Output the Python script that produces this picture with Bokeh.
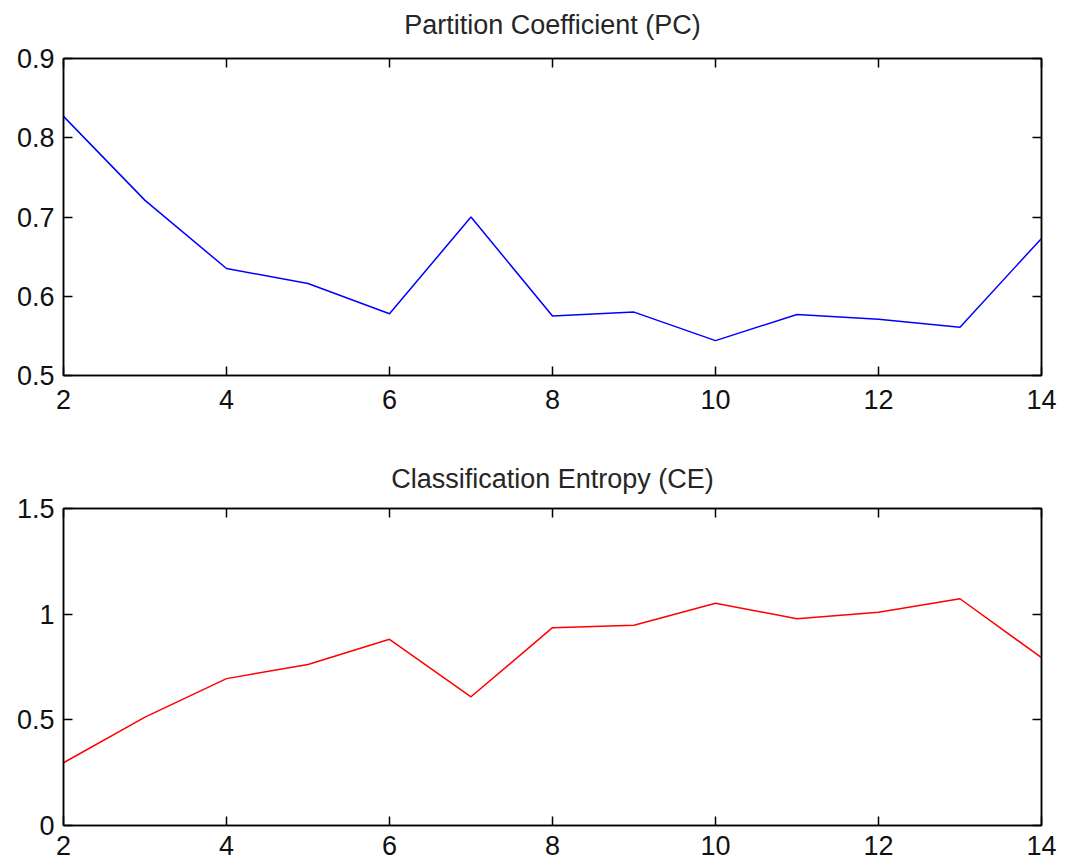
from bokeh.plotting import figure
from bokeh.layouts import column
from bokeh.models import LinearAxis, FixedTicker, Range1d, CustomLabelingPolicy
from bokeh.embed import file_html
from bokeh.resources import INLINE

# ---- data ----
clusters = [2, 3, 4, 5, 6, 7, 8, 9, 10, 11, 12, 13, 14]
pc_values = [0.827, 0.721, 0.635, 0.616, 0.578, 0.700, 0.575, 0.580, 0.544, 0.577, 0.571, 0.561, 0.673]
ce_values = [0.297, 0.513, 0.695, 0.762, 0.881, 0.609, 0.936, 0.948, 1.052, 0.978, 1.009, 1.073, 0.794]

pc_title = "Partition Coefficient (PC)"
ce_title = "Classification Entropy (CE)"

x_ticks = [2, 4, 6, 8, 10, 12, 14]
x_labels = ["2", "4", "6", "8", "10", "12", "14"]
pc_yticks = [0.5, 0.6, 0.7, 0.8, 0.9]
pc_ylabels = ["0.5", "0.6", "0.7", "0.8", "0.9"]
ce_yticks = [0, 0.5, 1, 1.5]
ce_ylabels = ["0", "0.5", "1", "1.5"]

FONT = "Liberation Sans"
FS = "27px"

HIDE_ALL = CustomLabelingPolicy(code="""
try { for (let i = 0; i < indices.size; i++) { indices.unset(i) } } catch (e) {}
return indices
""")


def style_axis(ax, ticks, labels, show_labels=True, standoff=8):
    ax.ticker = FixedTicker(ticks=ticks)
    ax.major_label_overrides = {t: l for t, l in zip(ticks, labels)}
    ax.major_tick_in = 9
    ax.major_tick_out = 0
    ax.minor_tick_in = 0
    ax.minor_tick_out = 0
    ax.axis_line_color = "black"
    ax.axis_line_width = 1.5
    ax.major_tick_line_color = "black"
    ax.major_tick_line_width = 1.5
    ax.major_label_text_font = FONT
    ax.major_label_text_color = "#111111"
    ax.major_label_standoff = standoff
    if show_labels:
        ax.major_label_text_font_size = FS
    else:
        ax.major_label_text_font_size = "0px"
        ax.major_label_policy = HIDE_ALL


def spacer_axis(ticks, gap):
    # invisible axis used only to keep the title away from the box
    ax = LinearAxis(ticker=FixedTicker(ticks=ticks))
    ax.major_tick_in = 0
    ax.major_tick_out = gap
    ax.minor_tick_in = 0
    ax.minor_tick_out = 0
    ax.major_tick_line_alpha = 0
    ax.axis_line_alpha = 0
    ax.major_label_text_font_size = "0px"
    ax.major_label_standoff = 0
    ax.major_label_policy = HIDE_ALL
    return ax


def make_panel(title, xs, ys, color, y0, y1, yticks, ylabels, height, b_top, b_bottom,
               xstand, tstand, top_gap):
    p = figure(width=1064, height=height, output_backend="svg", toolbar_location=None,
               x_range=Range1d(x_ticks[0], x_ticks[-1]), y_range=Range1d(y0, y1),
               min_border_left=63, min_border_right=23,
               min_border_top=b_top, min_border_bottom=b_bottom)
    p.title.text = title
    p.title.align = "center"
    p.title.vertical_align = "top"
    p.title.text_font = FONT
    p.title.text_font_size = FS
    p.title.text_font_style = "normal"
    p.title.text_color = "#262626"
    p.title.standoff = tstand
    p.xgrid.visible = False
    p.ygrid.visible = False
    p.outline_line_color = "black"
    p.outline_line_width = 1.5
    p.background_fill_color = "white"
    p.border_fill_color = "white"

    p.add_layout(LinearAxis(), "above")
    p.add_layout(LinearAxis(), "right")
    style_axis(p.below[0], x_ticks, x_labels, standoff=xstand)
    style_axis(p.left[0], yticks, ylabels, standoff=9)
    style_axis(p.above[0], x_ticks, x_labels, show_labels=False, standoff=0)
    style_axis(p.right[0], yticks, ylabels, show_labels=False, standoff=0)
    p.add_layout(spacer_axis(x_ticks, top_gap), "above")

    p.line(xs, ys, line_color=color, line_width=1.5)
    return p


p1 = make_panel(pc_title, clusters, pc_values, "#0000FF", 0.5, 0.9,
                pc_yticks, pc_ylabels, 455, 58, 80, 14, 13, 10)
p2 = make_panel(ce_title, clusters, ce_values, "#FF0000", 0.0, 1.5,
                ce_yticks, ce_ylabels, 411, 53, 41, 10, 10, 8)

layout = column(p1, p2, spacing=0)
open("out.html", "w").write(file_html(layout, INLINE))
